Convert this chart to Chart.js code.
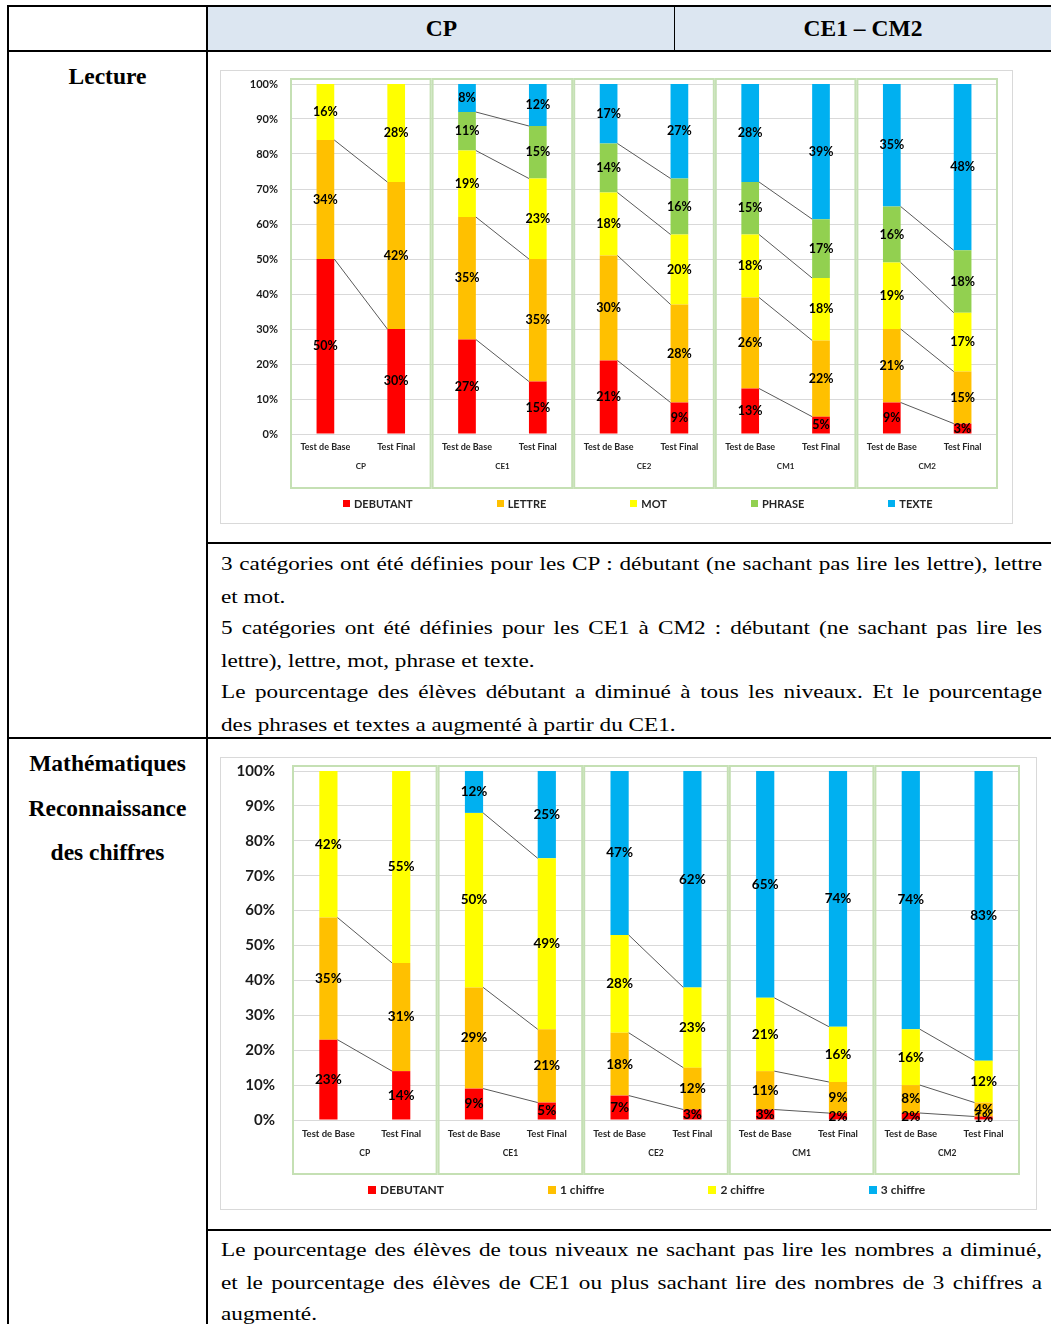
<!DOCTYPE html>
<html lang="fr">
<head>
<meta charset="utf-8">
<title>Lecture et Mathématiques</title>
<script src="https://cdn.jsdelivr.net/npm/chart.js@4.4.1/dist/chart.umd.min.js"></script>
<style>
  body { margin: 0; background: #fff; }
  #page { position: relative; width: 1051px; height: 1324px; overflow: hidden;
          font-family: "Liberation Serif", "Times New Roman", serif; color: #000; }
  .ln { position: absolute; background: #000; }
  .head { position: absolute; top: 6px; height: 45px; background: #dce6f1; }
  .title { position: absolute; font-weight: bold; font-size: 23.5px; text-align: center; }
  /* the document text is a little wider than tall, hence the scaleY */
  .para { position: absolute; left: 221px; width: 821px; font-size: 23.2px; line-height: 37.5px;
          transform: scaleY(0.853); transform-origin: 0 0; }
  .para .j { text-align: justify; text-align-last: justify; }
  .frame { position: absolute; border: 1px solid #d9d9d9; background: #fff; }
  .frame .box { position: absolute; left: 0; top: 0; right: 0; bottom: 0; }
  .legend { position: absolute; display: flex; align-items: center;
            font-family: Lato, sans-serif; font-weight: bold; color: #262626; }
  .legend span.item { display: flex; align-items: center; white-space: nowrap; }
  .legend i { display: inline-block; margin-right: 4px; }
</style>
</head>
<body>
<div id="page">
  <!-- table header -->
  <div class="head" style="left:208px; width:843px;"></div>
  <div class="title" style="left:208px; width:467px; top:15px;">CP</div>
  <div class="title" style="left:675px; width:376px; top:15px;">CE1 – CM2</div>

  <!-- table lines -->
  <div class="ln" style="left:7px; top:5px; width:1044px; height:2px;"></div>
  <div class="ln" style="left:7px; top:50px; width:1044px; height:2px;"></div>
  <div class="ln" style="left:7px; top:5px; width:2px; height:1319px;"></div>
  <div class="ln" style="left:206px; top:5px; width:2px; height:1319px;"></div>
  <div class="ln" style="left:674px; top:5px; width:1px; height:46px;"></div>
  <div class="ln" style="left:206px; top:542px; width:845px; height:2px;"></div>
  <div class="ln" style="left:7px; top:737px; width:1044px; height:2px;"></div>
  <div class="ln" style="left:206px; top:1229px; width:845px; height:2px;"></div>

  <!-- row titles -->
  <div class="title" style="left:9px; width:197px; top:61px; line-height:30px;">Lecture</div>
  <div class="title" style="left:9px; width:197px; top:741px; line-height:44.5px;">Mathématiques<br>Reconnaissance<br>des chiffres</div>

  <!-- chart 1 -->
  <div class="frame" style="left:220px; top:70px; width:791px; height:452px;">
    <div class="box"><canvas id="lectureChart"></canvas></div>
    <div class="legend" id="lectureLegend" style="left:122px; top:426px; font-size:11px; gap:84px;"></div>
  </div>

  <div class="para" style="top:548px;">
    <div class="j">3 catégories ont été définies pour les CP : débutant (ne sachant pas lire les lettre), lettre</div>
    <div>et mot.</div>
    <div class="j">5 catégories ont été définies pour les CE1 à CM2 : débutant (ne sachant pas lire les</div>
    <div>lettre), lettre, mot, phrase et texte.</div>
    <div class="j">Le pourcentage des élèves débutant a diminué à tous les niveaux. Et le pourcentage</div>
    <div>des phrases et textes a augmenté à partir du CE1.</div>
  </div>

  <!-- chart 2 -->
  <div class="frame" style="left:220px; top:757px; width:815px; height:451px;">
    <div class="box"><canvas id="mathsChart"></canvas></div>
    <div class="legend" id="mathsLegend" style="left:147px; top:424px; font-size:12px; gap:104px;"></div>
  </div>

  <div class="para" style="top:1234px;">
    <div class="j">Le pourcentage des élèves de tous niveaux ne sachant pas lire les nombres a diminué,</div>
    <div class="j">et le pourcentage des élèves de CE1 ou plus sachant lire des nombres de 3 chiffres a</div>
    <div>augmenté.</div>
  </div>
</div>

<script>
// categories
const groups = ['CP', 'CE1', 'CE2', 'CM1', 'CM2'];
const tests = ['Test de Base', 'Test Final'];
const yTickLabels = ['0%', '10%', '20%', '30%', '40%', '50%', '60%', '70%', '80%', '90%', '100%'];

// Lecture (Base, Final for each level)
const lectureSeries = ['DEBUTANT', 'LETTRE', 'MOT', 'PHRASE', 'TEXTE'];
const lectureColors = ['#ff0000', '#ffc000', '#ffff00', '#92d050', '#00b0f0'];
const lectureDebutant = [50, 30, 27, 15, 21, 9, 13, 5, 9, 3];
const lectureLettre = [34, 42, 35, 35, 30, 28, 26, 22, 21, 15];
const lectureMot = [16, 28, 19, 23, 18, 20, 18, 18, 19, 17];
const lecturePhrase = [0, 0, 11, 15, 14, 16, 15, 17, 16, 18];
const lectureTexte = [0, 0, 8, 12, 17, 27, 28, 39, 35, 48];

// Mathematiques - reconnaissance des chiffres
const mathsSeries = ['DEBUTANT', '1 chiffre', '2 chiffre', '3 chiffre'];
const mathsColors = ['#ff0000', '#ffc000', '#ffff00', '#00b0f0'];
const mathsDebutant = [23, 14, 9, 5, 7, 3, 3, 2, 2, 1];
const mathsUnChiffre = [35, 31, 29, 21, 18, 12, 11, 9, 8, 4];
const mathsDeuxChiffres = [42, 55, 50, 49, 28, 23, 21, 16, 16, 12];
const mathsTroisChiffres = [0, 0, 12, 25, 47, 62, 65, 74, 74, 83];

const FONT = 'Lato';

// green frame around each level (drawn from the x scale)
const groupBoxes = {
  id: 'groupBoxes',
  beforeDatasetsDraw(chart) {
    const { ctx, chartArea, scales } = chart;
    const x = scales.x, x2 = scales.x2;
    const w = (x.right - x.left) / groups.length;
    const top = chartArea.top - 5;
    const bottom = x2.bottom + 2;
    ctx.save();
    ctx.strokeStyle = '#c5e0b4';
    ctx.lineWidth = 2;
    for (let i = 0; i < groups.length; i++) {
      ctx.strokeRect(x.left + i * w + 1, top, w - 2, bottom - top);
    }
    ctx.restore();
  }
};

// Excel-like series lines between the two stacks of a level
const seriesLines = {
  id: 'seriesLines',
  afterDatasetsDraw(chart) {
    const { ctx, chartArea } = chart;
    const n = chart.data.datasets.length;
    ctx.save();
    ctx.strokeStyle = '#595959';
    ctx.lineWidth = 1;
    for (let d = 0; d < n - 1; d++) {
      const meta = chart.getDatasetMeta(d);
      for (let g = 0; g < groups.length; g++) {
        const a = meta.data[2 * g], b = meta.data[2 * g + 1];
        if (a.y - chartArea.top < 1 && b.y - chartArea.top < 1) continue;
        ctx.beginPath();
        ctx.moveTo(a.x + a.width / 2, a.y);
        ctx.lineTo(b.x - b.width / 2, b.y);
        ctx.stroke();
      }
    }
    ctx.restore();
  }
};

// percentage in the middle of each segment
const valueLabels = {
  id: 'valueLabels',
  afterDatasetsDraw(chart, args, opts) {
    const { ctx } = chart;
    ctx.save();
    ctx.font = 'bold ' + opts.size + 'px ' + FONT;
    ctx.fillStyle = '#000';
    ctx.textAlign = 'center';
    ctx.textBaseline = 'middle';
    chart.data.datasets.forEach((ds, d) => {
      chart.getDatasetMeta(d).data.forEach((el, i) => {
        const v = ds.rawValues[i];
        if (!v) return;
        ctx.fillText(v + '%', el.x, (el.y + el.base) / 2);
      });
    });
    ctx.restore();
  }
};

function makeChart(id, names, colors, series, f) {
  // 100% stacked: each column scaled to its own total
  const totals = series[0].map((_, i) => series.reduce((s, arr) => s + arr[i], 0));
  const labels = [];
  groups.forEach(() => tests.forEach(t => labels.push(t)));

  return new Chart(document.getElementById(id), {
    type: 'bar',
    data: {
      labels: labels,
      datasets: series.map((arr, k) => ({
        label: names[k],
        data: arr.map((v, i) => v / totals[i] * 100),
        rawValues: arr,
        backgroundColor: colors[k],
        borderWidth: 0,
        barPercentage: 0.25,
        categoryPercentage: 1
      }))
    },
    options: {
      responsive: true,
      maintainAspectRatio: false,
      animation: false,
      layout: { padding: { left: 0, right: f.right, top: 13, bottom: 37 } },
      plugins: {
        legend: { display: false },
        tooltip: { enabled: false },
        valueLabels: { size: f.value }
      },
      scales: {
        x: {
          stacked: true,
          grid: { display: false, drawTicks: false },
          border: { display: false },
          ticks: { font: { family: FONT, size: f.xTick, weight: 'bold' }, color: '#262626',
                   padding: 8, maxRotation: 0, autoSkip: false },
          afterFit: s => { s.height = 22; }
        },
        x2: {
          type: 'category',
          labels: groups,
          position: 'bottom',
          offset: true,
          grid: { display: false, drawTicks: false },
          border: { display: false },
          ticks: { font: { family: FONT, size: f.group, weight: 'bold' }, color: '#262626', padding: 6 },
          afterFit: s => { s.height = 30; }
        },
        y: {
          stacked: true,
          min: 0,
          max: 100,
          // invisible tick marks keep the labels away from the plot
          grid: { color: '#d9d9d9', drawTicks: true, tickLength: f.yPad, tickColor: 'rgba(0,0,0,0)' },
          border: { display: false },
          ticks: { stepSize: 10, padding: 0, color: '#1a1a1a',
                   font: { family: FONT, size: f.yTick, weight: 'bold' },
                   callback: (v, i) => yTickLabels[i] },
          afterFit: s => { s.width = f.yWidth; }
        }
      }
    },
    plugins: [groupBoxes, seriesLines, valueLabels]
  });
}

function makeLegend(id, names, colors, box) {
  const el = document.getElementById(id);
  names.forEach((name, k) => {
    const item = document.createElement('span');
    item.className = 'item';
    item.innerHTML = '<i style="width:' + box + 'px;height:' + box + 'px;background:' + colors[k] + '"></i>' + name;
    el.appendChild(item);
  });
}

makeChart('lectureChart', lectureSeries, lectureColors,
  [lectureDebutant, lectureLettre, lectureMot, lecturePhrase, lectureTexte],
  { right: 14, value: 12.5, xTick: 9, group: 8, yTick: 11, yPad: 12, yWidth: 69 });
makeLegend('lectureLegend', lectureSeries, lectureColors, 7);

makeChart('mathsChart', mathsSeries, mathsColors,
  [mathsDebutant, mathsUnChiffre, mathsDeuxChiffres, mathsTroisChiffres],
  { right: 16, value: 13.5, xTick: 9.5, group: 8.5, yTick: 15, yPad: 17, yWidth: 71 });
makeLegend('mathsLegend', mathsSeries, mathsColors, 8);
</script>
</body>
</html>
